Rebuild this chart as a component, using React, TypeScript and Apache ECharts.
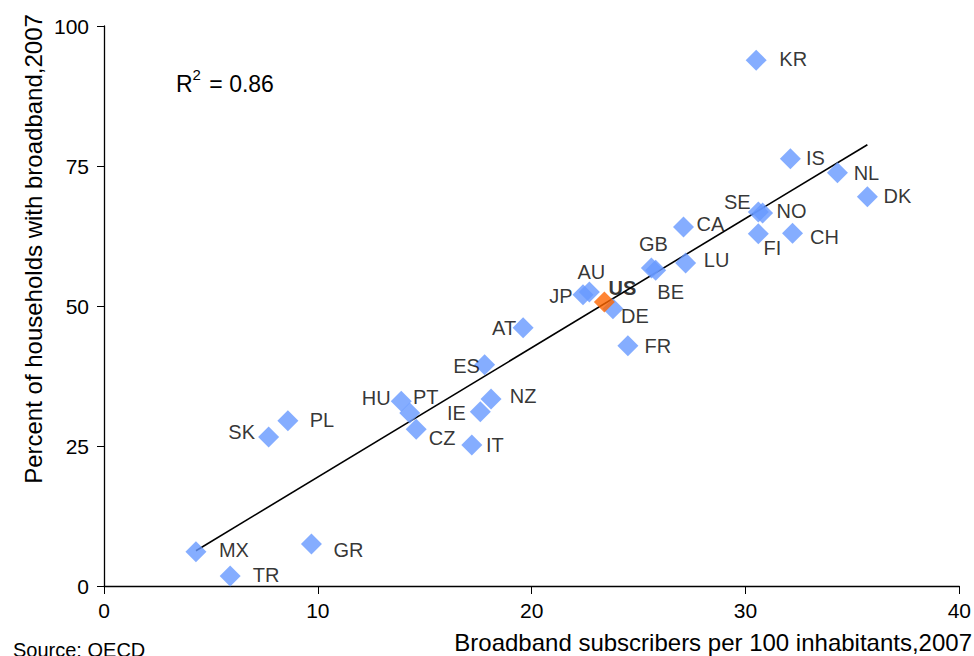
import React, { useEffect, useRef } from "react";
import * as echarts from "echarts";

const countries = ["KR","IS","NL","DK","SE","NO","FI","CH","CA","GB","BE","LU","JP","AU","US","DE","FR","AT","ES","HU","PT","CZ","IE","NZ","IT","SK","PL","MX","TR","GR"];
const subscribers = [30.5,32.1,34.3,35.7,30.6,30.8,30.6,32.2,27.1,25.6,25.8,27.2,22.4,22.7,23.4,23.8,24.5,19.6,17.8,13.9,14.3,14.6,17.6,18.1,17.2,7.7,8.6,4.3,5.9,9.7];
const households = [93.9,76.3,73.8,69.5,66.8,66.6,62.9,63.0,64.1,56.8,56.4,57.7,52.0,52.5,50.7,49.5,42.9,46.1,39.5,33.0,30.9,28.0,31.1,33.4,25.2,26.6,29.5,6.1,1.8,7.5];
const trendX = [4.3, 35.7];
const trendY = [6.3, 78.8];
const xTicks = [0, 10, 20, 30, 40];
const yTicks = [0, 25, 50, 75, 100];
const rSquared = "0.86";

// label layout (offset of text centre from marker centre, px)
const labelOffsets: Record<string, [number, number]> = {
  KR: [37, -1], IS: [25, -1], NL: [29, 0], DK: [30, -1], SE: [-21, -10], NO: [29, -2],
  FI: [14, 14], CH: [32, 4], CA: [27, -3], GB: [2, -24], BE: [15, 22], LU: [31, -3],
  JP: [-22, 1], AU: [2, -20], US: [18, -14], DE: [22, 7], FR: [30, 0], AT: [-19, 0],
  ES: [-18, 1], HU: [-25, -3], PT: [16, -16], CZ: [26, 9], IE: [-24, 1], NZ: [32, -3],
  IT: [23, 0], SK: [-27, -5], PL: [34, -1], MX: [38, -2], TR: [36, -1], GR: [37, 6],
};

const FONT = "'Liberation Sans', Arial, sans-serif";

export default function App() {
  const ref = useRef<HTMLDivElement>(null);
  useEffect(() => {
    if (!ref.current) return;
    const chart = echarts.init(ref.current, null, { renderer: "svg" });
    const data = countries.map((c, i) => {
      const isUS = c === "US";
      return {
        name: c,
        value: [subscribers[i], households[i]],
        itemStyle: { color: isUS ? "#FF6600" : "#6699FF" },
        label: {
          show: true,
          position: "inside",
          formatter: c,
          offset: labelOffsets[c],
          color: "#000",
          textBorderWidth: 0,
          fontSize: 20,
          fontFamily: FONT,
          fontWeight: isUS ? "bold" : "normal",
        },
      };
    });
    const usIdx = countries.indexOf("US");
    chart.setOption({
      animation: false,
      textStyle: { fontFamily: FONT },
      grid: { left: 104, right: 7, top: 26, bottom: 70, containLabel: false },
      xAxis: {
        type: "value",
        min: xTicks[0],
        max: xTicks[xTicks.length - 1],
        interval: 10,
        splitLine: { show: false },
        axisLine: { lineStyle: { color: "#000", width: 1.3 } },
        axisTick: { length: 8, lineStyle: { color: "#000" } },
        axisLabel: { color: "#000", fontSize: 21, margin: 14, fontFamily: FONT },
      },
      yAxis: {
        type: "value",
        min: yTicks[0],
        max: yTicks[yTicks.length - 1],
        interval: 25,
        splitLine: { show: false },
        axisLine: { show: true, lineStyle: { color: "#000", width: 1.3 } },
        axisTick: { show: true, length: 7, lineStyle: { color: "#000" } },
        axisLabel: { color: "#000", fontSize: 21, margin: 15, fontFamily: FONT },
      },
      series: [
        {
          type: "line",
          data: trendX.map((x, i) => [x, trendY[i]]),
          symbol: "none",
          lineStyle: { color: "#000", width: 1.6 },
          z: 2,
          silent: true,
        },
        {
          type: "scatter",
          symbol: "diamond",
          symbolSize: 21,
          z: 3,
          data: data.filter((_, i) => i !== usIdx),
        },
        {
          type: "scatter",
          symbol: "diamond",
          symbolSize: 21,
          z: 4,
          data: [data[usIdx]],
        },
      ],
      graphic: [
        {
          type: "text",
          left: 176,
          top: 67,
          style: {
            text: "{r|R}{s|2}{r| = " + rSquared + "}",
            rich: {
              r: { fontSize: 23, fontFamily: FONT, fill: "#000", verticalAlign: "bottom", lineHeight: 28 },
              s: { fontSize: 15, fontFamily: FONT, fill: "#000", verticalAlign: "top", padding: [0, 2, 10, 0], lineHeight: 28 },
            },
          },
        },
        {
          type: "text",
          right: 2,
          top: 630,
          style: {
            text: "Broadband subscribers per 100 inhabitants,2007",
            fontSize: 24,
            fontFamily: FONT,
            fill: "#000",
          },
        },
        {
          type: "text",
          x: 33,
          y: 249,
          rotation: Math.PI / 2,
          style: {
            text: "Percent of households with broadband,2007",
            fontSize: 24,
            fontFamily: FONT,
            fill: "#000",
            align: "center",
            verticalAlign: "middle",
          },
        },
        {
          type: "text",
          left: 13,
          top: 640,
          style: {
            text: "Source: OECD",
            fontSize: 20,
            fontFamily: FONT,
            fill: "#000",
          },
        },
      ],
    });
    return () => chart.dispose();
  }, []);
  return <div ref={ref} style={{ width: 974, height: 656, position: "absolute", left: 0, top: 0 }} />;
}
